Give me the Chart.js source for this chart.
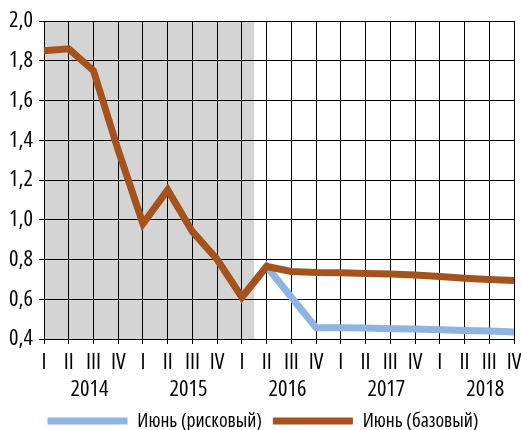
<!DOCTYPE html>
<html><head><meta charset="utf-8">
<script src="https://cdn.jsdelivr.net/npm/chart.js@4.4.0/dist/chart.umd.min.js"></script>
<style>html,body{margin:0;padding:0;background:#fff}#wrap{width:521px;height:430px}</style>
</head><body><div id="wrap"><canvas id="c" width="521" height="430"></canvas></div>
<script>
const quarters = ['I','II','III','IV','I','II','III','IV','I','II','III','IV','I','II','III','IV','I','II','III','IV'];
const years = ['2014','2015','2016','2017','2018'];
const seriesNames = ['Июнь (рисковый)', 'Июнь (базовый)'];
const baseline = [1.85,1.86,1.75,1.35,0.98,1.15,0.94,0.80,0.61,0.765,0.74,0.735,0.733,0.73,0.727,0.722,0.714,0.706,0.699,0.694];
const risk = [null,null,null,null,null,null,null,null,0.61,0.765,0.61,0.457,0.457,0.455,0.452,0.45,0.447,0.443,0.44,0.435];
const yMin = 0.4, yMax = 2.0, yStep = 0.2;
const shadedUntil = 8.5;   // history/forecast boundary (category index)
const yearLabelPos = 1.84; // year label offset from its first quarter (in quarters)

// pick the most condensed-looking installed face (target: ink width/height of "2014" ≈ 2.2)
function pickFont() {
  const c = document.createElement('canvas').getContext('2d');
  const fams = ['Liberation Sans Narrow','Roboto','Open Sans','Noto Sans','DejaVu Sans','Liberation Sans','Lato','Inter'];
  const stretches = ['ultra-condensed','extra-condensed','condensed','semi-condensed','normal'];
  let best = null;
  for (const f of fams) for (const s of stretches) {
    c.font = s + " 100px '" + f + "'";
    const m = c.measureText('2014');
    const h = m.actualBoundingBoxAscent + m.actualBoundingBoxDescent;
    const w = m.actualBoundingBoxLeft + m.actualBoundingBoxRight;
    const d = Math.abs(w / h - 2.2);
    if (!best || d < best.d - 0.01) best = {f, s, d, h};
  }
  return best;
}
const PF = pickFont();
const FAM = "'" + PF.f + "'";
const STR = PF.s;
const sz = capPx => Math.round(capPx / (PF.h / 100) * 10) / 10;
const tickFont = { family: FAM, weight: STR, size: sz(16.5) };
const legendFont = { family: FAM, weight: STR, size: sz(14.5) };

const shadePlugin = {
  id: 'shade',
  beforeDraw(chart) {
    const {ctx, chartArea, scales: {x}} = chart;
    const xr = x.getPixelForValue(shadedUntil);
    ctx.save();
    ctx.fillStyle = '#d4d4d4';
    ctx.fillRect(chartArea.left, chartArea.top, xr - chartArea.left, chartArea.bottom - chartArea.top);
    ctx.restore();
  }
};
const yearPlugin = {
  id: 'years',
  afterDraw(chart) {
    const {ctx, chartArea, scales: {x}} = chart;
    ctx.save();
    ctx.font = STR + ' ' + tickFont.size + 'px ' + FAM;
    ctx.fillStyle = '#000';
    ctx.textAlign = 'center';
    ctx.textBaseline = 'middle';
    years.forEach((y, i) => {
      ctx.fillText(y, x.getPixelForValue(i * 4 + yearLabelPos), chartArea.bottom + 51);
    });
    ctx.restore();
  }
};
// centre the legend under the full canvas plus a small shift, as in the reference
const legendShift = {
  id: 'legendShift',
  afterLayout(chart) {
    if (chart.legend) { chart.legend.left += 6; chart.legend.right += 6; }
  }
};

const legendPad = 11;
const padB = 420 - legendFont.size / 2 - 421;
new Chart(document.getElementById('c'), {
  type: 'line',
  data: {
    labels: quarters,
    datasets: [
      { label: seriesNames[0], data: risk, borderColor: '#8db4e2', backgroundColor: '#8db4e2', borderWidth: 7, pointRadius: 0, tension: 0, order: 2 },
      { label: seriesNames[1], data: baseline, borderColor: '#a5521c', backgroundColor: '#a5521c', borderWidth: 7, pointRadius: 0, tension: 0, order: 1 }
    ]
  },
  options: {
    responsive: false,
    animation: false,
    devicePixelRatio: 1,
    layout: { padding: { top: 21, right: 7, left: 0, bottom: padB } },
    plugins: {
      legend: {
        position: 'bottom',
        labels: {
          boxWidth: 80, boxHeight: 7, padding: legendPad, color: '#000',
          font: legendFont,
          sort: (a, b) => a.datasetIndex - b.datasetIndex,
          generateLabels: (chart) => Chart.defaults.plugins.legend.labels.generateLabels(chart).map(l => ({...l, lineWidth: 0}))
        }
      },
      tooltip: { enabled: false }
    },
    scales: {
      x: {
        type: 'category',
        offset: false,
        grid: { color: '#000', lineWidth: 1, drawTicks: true, tickLength: 5, tickColor: '#000' },
        border: { color: '#000', width: 1 },
        ticks: { color: '#000', font: tickFont, padding: 5, autoSkip: false, maxRotation: 0 },
        afterFit(s) {
          const L = legendFont.size + legendPad + 10;
          s.height = 430 - padB - L - 339;
          s.paddingLeft = 0; s.paddingRight = 0;
        }
      },
      y: {
        min: yMin, max: yMax,
        grid: { color: '#000', lineWidth: 1, drawTicks: true, tickLength: 5, tickColor: '#000' },
        border: { color: '#000', width: 1 },
        ticks: { stepSize: yStep, color: '#000', font: tickFont, padding: 6,
          callback: v => v.toFixed(1).replace('.', ',') },
        afterFit(s) { s.width = 44; }
      }
    }
  },
  plugins: [shadePlugin, yearPlugin, legendShift]
});
</script></body></html>
